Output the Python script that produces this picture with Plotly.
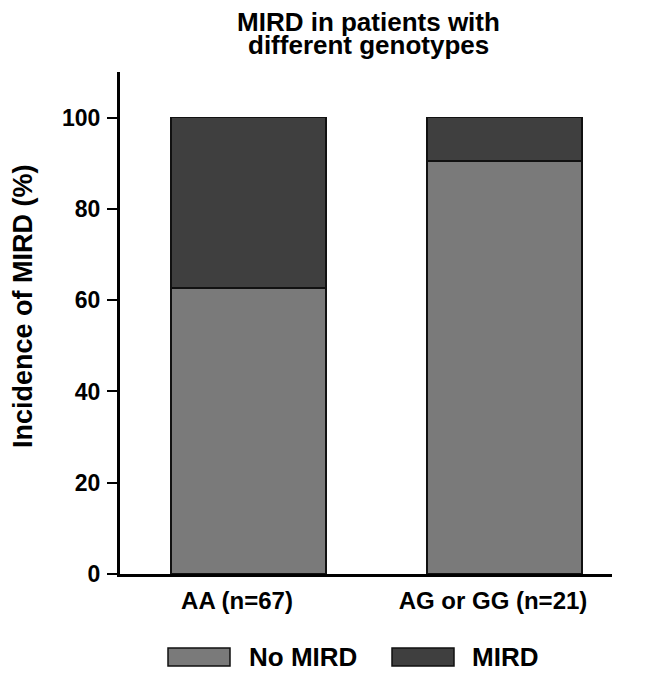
import plotly.graph_objects as go

categories = ["AA (n=67)", "AG or GG (n=21)"]
no_mird = [62.7, 90.5]
mird = [37.3, 9.5]
y_ticks = [0, 20, 40, 60, 80, 100]
series_names = ["No MIRD", "MIRD"]
colors = ["#7a7a7a", "#3f3f3f"]
title_lines = ["MIRD in patients with", "different genotypes"]
y_title = "Incidence of MIRD (%)"

W, H = 645, 678
L, R, T, B = 120, 33, 72, 104
pw = W - L - R
ph = H - T - B


def px(x):
    return (x - L) / pw


def py(y):
    return (H - B - y) / ph


FONT = "Liberation Sans, Arial, sans-serif"

fig = go.Figure()
for name, vals, col in zip(series_names, [no_mird, mird], colors):
    fig.add_trace(go.Bar(
        x=categories, y=vals, name=name,
        marker=dict(color=col, line=dict(color="#111111", width=1.5)),
        width=0.605, offset=-0.258, showlegend=False,
    ))

shapes = []
annotations = []
# legend
leg = [(168, 230, 247), (392, 454, 470)]
for (x0, x1, tx), name, col in zip(leg, series_names, colors):
    shapes.append(dict(type="rect", xref="paper", yref="paper",
                       x0=px(x0), x1=px(x1), y0=py(666), y1=py(648),
                       fillcolor=col, line=dict(color="#111111", width=1.5)))
    annotations.append(dict(text=name, xref="paper", yref="paper",
                            x=px(tx), y=py(657), xanchor="left", yanchor="middle",
                            showarrow=False,
                            font=dict(family=FONT, size=26, color="black", weight="bold")))
# title
for line, yc in zip(title_lines, [21.5, 45]):
    annotations.append(dict(text=line, xref="paper", yref="paper",
                            x=px(368), y=py(yc), xanchor="center", yanchor="middle",
                            showarrow=False,
                            font=dict(family=FONT, size=26, color="black", weight="bold")))
# y title
annotations.append(dict(text=y_title, xref="paper", yref="paper",
                        x=px(23), y=py(306), xanchor="center", yanchor="middle",
                        textangle=-90, showarrow=False,
                        font=dict(family=FONT, size=27, color="black", weight="bold")))

fig.update_layout(
    width=W, height=H,
    margin=dict(l=L, r=R, t=T, b=B, pad=0),
    barmode="stack",
    plot_bgcolor="white", paper_bgcolor="white",
    shapes=shapes, annotations=annotations,
    font=dict(family=FONT, color="black"),
)
fig.update_xaxes(
    range=[-0.457, 1.465], showline=True, linecolor="black", linewidth=3,
    ticks="", showgrid=False, zeroline=False,
    tickfont=dict(family=FONT, size=24, color="black", weight="bold"),
    ticklabelstandoff=3,
)
fig.update_yaxes(
    range=[0, 110], tickvals=y_ticks, showline=True, linecolor="black", linewidth=3,
    ticks="outside", ticklen=10, tickwidth=1.5, tickcolor="black",
    showgrid=False, zeroline=False,
    tickfont=dict(family=FONT, size=23, color="black", weight="bold"),
    ticklabelstandoff=2,
)

fig.write_html("out.html", config={"displayModeBar": False},
               post_script="document.body.style.margin='0';document.body.style.overflow='hidden';")
